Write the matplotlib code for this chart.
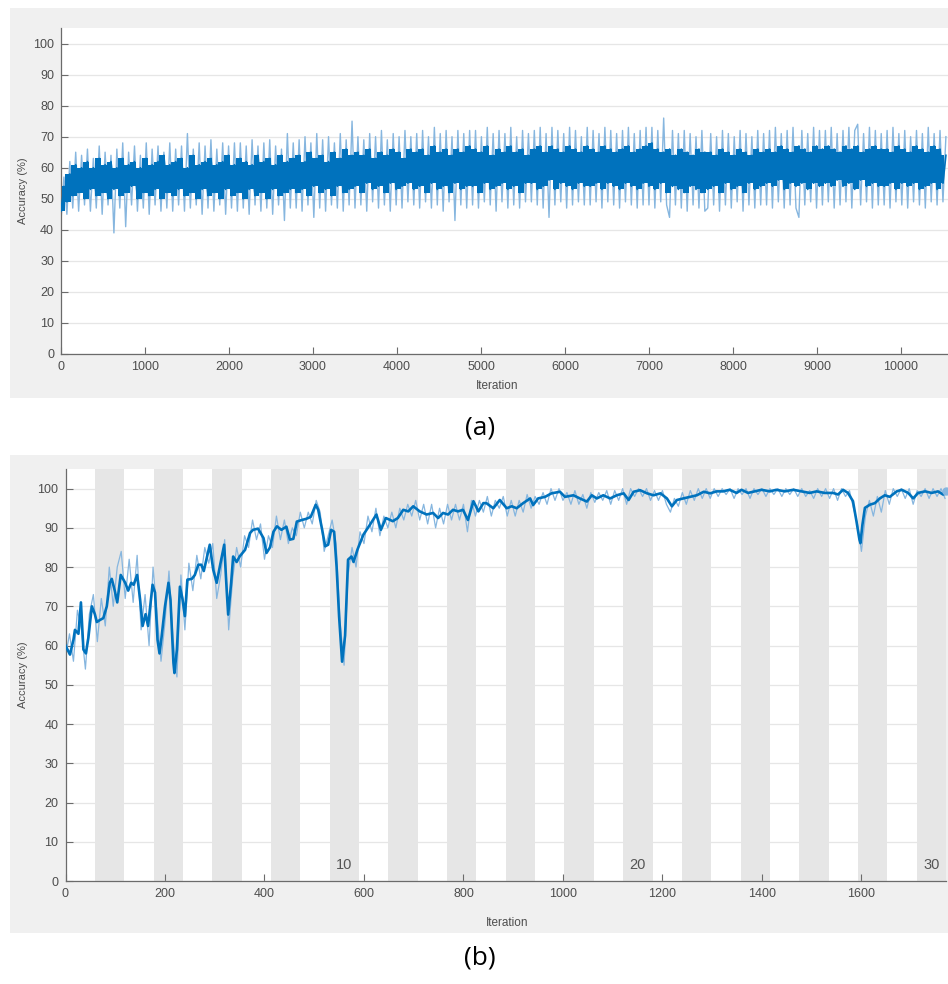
import numpy as np
import matplotlib
matplotlib.use("Agg")
import matplotlib.pyplot as plt
from matplotlib.patches import Rectangle

plt.rcParams['font.family'] = ['Liberation Sans', 'DejaVu Sans']

# ---------------- Panel (a) data ----------------
a_step = 35  # iterations between samples
a_smooth = [
    46, 54, 49, 58, 51, 61, 52, 60, 50, 62, 53, 60, 51, 63, 52, 61, 50, 62, 53, 60,
    51, 63, 52, 61, 54, 62, 50, 60, 52, 63, 51, 61, 53, 62, 50, 64, 52, 61, 51, 62,
    53, 63, 51, 60, 52, 64, 50, 61, 53, 62, 51, 63, 52, 61, 50, 62, 53, 64, 51, 61,
    52, 63, 50, 62, 53, 61, 51, 64, 52, 62, 50, 63, 53, 61, 51, 64, 52, 62, 53, 63,
    52, 64, 53, 62, 51, 65, 54, 63, 52, 64, 53, 62, 51, 65, 54, 63, 52, 66, 53, 64,
    54, 65, 52, 64, 55, 66, 53, 63, 54, 65, 52, 64, 55, 66, 53, 65, 54, 63, 55, 66,
    53, 65, 54, 66, 52, 64, 55, 67, 53, 65, 54, 66, 52, 64, 55, 66, 53, 65, 54, 67,
    54, 66, 52, 65, 55, 67, 53, 64, 54, 66, 55, 65, 53, 67, 54, 65, 52, 66, 55, 64,
    55, 66, 53, 67, 54, 65, 56, 67, 53, 66, 55, 65, 54, 67, 53, 66, 55, 65, 54, 67,
    54, 66, 55, 65, 53, 67, 55, 66, 54, 65, 53, 66, 55, 67, 54, 65, 53, 66, 55, 67,
    54, 68, 53, 66, 55, 65, 52, 66, 54, 64, 53, 66, 52, 65, 54, 64, 53, 66, 52, 65,
    53, 65, 54, 64, 52, 66, 55, 65, 53, 64, 54, 66, 52, 65, 55, 64, 53, 66, 54, 65,
    55, 66, 54, 65, 56, 67, 53, 66, 55, 65, 54, 67, 55, 66, 53, 65, 55, 67, 54, 66,
    55, 67, 54, 66, 56, 65, 54, 67, 55, 66, 53, 67, 56, 65, 54, 66, 55, 67, 54, 66,
    54, 66, 55, 65, 53, 67, 55, 66, 54, 65, 55, 67, 53, 66, 54, 65, 55, 67, 53, 66,
    55, 64,
]
a_raw = [
    43, 57, 45, 62, 47, 65, 46, 64, 48, 66, 46, 63, 47, 67, 45, 65, 48, 64, 39, 66,
    47, 68, 41, 65, 48, 67, 46, 64, 47, 68, 45, 66, 48, 67, 46, 65, 47, 68, 46, 66,
    48, 67, 46, 71, 47, 66, 48, 68, 45, 67, 47, 69, 46, 66, 48, 68, 45, 67, 47, 68,
    46, 68, 47, 67, 45, 69, 48, 67, 46, 68, 47, 69, 45, 67, 48, 66, 43, 71, 47, 68,
    47, 69, 46, 70, 48, 68, 44, 71, 47, 69, 46, 70, 48, 68, 47, 71, 46, 69, 48, 75,
    47, 70, 48, 69, 46, 71, 49, 70, 47, 72, 48, 69, 46, 71, 48, 70, 47, 72, 49, 70,
    48, 71, 47, 72, 49, 70, 47, 73, 48, 71, 46, 72, 49, 70, 43, 72, 48, 71, 47, 72,
    48, 72, 47, 70, 49, 73, 48, 71, 46, 72, 49, 71, 47, 73, 48, 70, 47, 72, 49, 71,
    49, 72, 48, 73, 47, 71, 44, 73, 48, 72, 49, 71, 47, 73, 48, 72, 49, 70, 48, 73,
    48, 72, 49, 71, 47, 73, 49, 72, 48, 71, 47, 72, 49, 73, 48, 71, 47, 72, 48, 73,
    48, 73, 47, 72, 49, 76, 48, 44, 72, 48, 71, 47, 72, 46, 71, 48, 70, 47, 72, 46,
    47, 71, 48, 70, 46, 72, 48, 71, 47, 70, 49, 72, 46, 71, 48, 70, 47, 72, 48, 71,
    48, 72, 47, 73, 49, 71, 47, 72, 48, 73, 47, 44, 72, 48, 71, 49, 73, 47, 72, 48,
    72, 49, 73, 47, 71, 48, 72, 49, 73, 47, 72, 74, 48, 71, 49, 73, 47, 72, 48, 71,
    48, 72, 47, 73, 49, 71, 48, 72, 47, 70, 49, 72, 48, 71, 47, 73, 49, 71, 48, 72,
    49, 70,
]
a_xticks = list(range(0, 10001, 1000))

# ---------------- Panel (b) data ----------------
b_raw_step = 8
b_raw = [
    57, 63, 56, 69, 64, 54, 68, 73, 61, 72, 65, 80, 70, 80, 84, 72, 82, 71, 83, 64,
    73, 60, 80, 68, 56, 66, 79, 62, 52, 78, 64, 81, 74, 83, 77, 85, 81, 86, 72, 78,
    87, 64, 77, 85, 80, 88, 85, 92, 87, 91, 82, 88, 85, 93, 87, 92, 86, 90, 88, 94,
    90, 94, 91, 97, 94, 84, 88, 92, 86, 66, 55, 78, 85, 80, 89, 86, 93, 89, 95, 88,
    93, 90, 94, 90, 95, 92, 96, 93, 97, 92, 96, 91, 96, 90, 95, 91, 96, 92, 96, 92,
    96, 89, 97, 93, 97, 94, 98, 93, 97, 95, 98, 93, 97, 93, 97, 94, 98.5, 95, 98, 96,
    99, 96, 100, 97, 100, 97, 99, 96, 99.5, 96, 98.5, 95, 99, 96.5, 99, 97, 99.5, 96, 99.5, 97,
    100, 96, 100, 98, 100, 98, 100, 97, 99.5, 97, 99.5, 96, 94, 97.5, 95.5, 99, 96, 99.5, 97, 100,
    97.5, 100, 97.5, 100, 98, 100, 98.5, 100, 97.5, 100, 98.5, 100, 97.5, 100, 98.5, 100, 98, 100, 98.5, 100,
    98, 100, 98.5, 100, 98, 100, 98, 99.5, 97.5, 100, 98, 100, 97.5, 100, 97, 100, 98, 99.5, 95, 91,
    84, 93, 97, 93, 98, 94, 99.5, 96, 100, 98, 100, 97.5, 100, 96, 99.5, 98, 100, 97.5, 100, 98,
    100, 97.5,
]
b_smooth_iter = [
    0, 9, 16, 19, 26, 31, 36, 41, 46, 53, 59, 63, 69, 76, 83, 89, 93, 99, 104, 111,
    120, 126, 132, 137, 144, 150, 155, 161, 166, 175, 180, 185, 189, 193, 200, 207, 211, 217, 219, 224,
    230, 235, 240, 245, 254, 260, 267, 273, 278, 290, 297, 304, 310, 319, 324, 327, 333, 337, 344, 350,
    361, 371, 377, 387, 398, 404, 411, 418, 425, 434, 444, 451, 458, 465, 475, 484, 493, 503, 508, 516,
    522, 528, 534, 540, 545, 550, 556, 562, 568, 575, 579, 587, 599, 612, 625, 634, 644, 658, 668, 679,
    689, 699, 712, 726, 739, 749, 759, 769, 779, 789, 799, 809, 820, 830, 840, 846, 860, 873, 887, 897,
    907, 920, 934, 940, 950, 964, 977, 994, 1004, 1021, 1034, 1048, 1058, 1068, 1081, 1095, 1108, 1122, 1132, 1142,
    1155, 1169, 1182, 1196, 1209, 1219, 1229, 1242, 1256, 1269, 1283, 1296, 1309, 1322, 1335, 1349, 1359, 1372, 1386, 1399,
    1416, 1429, 1446, 1463, 1480, 1496, 1510, 1526, 1543, 1553, 1563, 1573, 1583, 1590, 1596, 1598, 1602, 1607, 1617, 1627,
    1637, 1647, 1657, 1671, 1681, 1694, 1704, 1714, 1728, 1741, 1754, 1764, 1770,
]
b_smooth = [
    60, 57.7, 61.5, 64, 63, 71, 59, 58, 62, 70, 68, 66, 66.5, 67, 70, 76, 77, 74, 71, 78,
    76, 74, 76, 75.5, 78, 71.7, 65, 68, 65, 75.5, 73.5, 61.5, 58, 62, 70, 76, 71.7, 55.6, 53, 59,
    75, 72, 67.5, 76.8, 77, 78, 80.6, 80.6, 79, 85.7, 79.3, 76, 80, 85.7, 74.2, 67.9, 76, 82.7, 81.3, 82.7,
    84.4, 88.7, 89.5, 89.8, 87.4, 83.6, 85, 89, 90.4, 89.5, 90.3, 87, 87.2, 91.6, 92, 92.3, 92.8, 95.9, 94.6, 89.5,
    85.3, 85.7, 89.5, 89, 80, 67.4, 55.9, 62.5, 81.9, 82.7, 81.3, 84.5, 88.3, 90.8, 93.4, 89.5, 92.5, 91.7, 92.5, 94.6,
    94.2, 95.5, 94.2, 93.4, 93.8, 92.5, 93.8, 93.4, 94.6, 94.2, 94.6, 92, 96.8, 94.2, 96.3, 96.3, 95, 97.1, 95, 95.5,
    95, 96.3, 97.5, 95.8, 97.5, 97.9, 98.8, 99.2, 97.9, 98.3, 97.5, 96.7, 98.3, 97.5, 98.3, 97.5, 98.3, 98.8, 97.1, 99.2,
    99.6, 98.8, 98.3, 98.8, 97.5, 95.5, 97.1, 97.5, 97.9, 98.3, 99.2, 98.8, 99.3, 99.3, 99.7, 98.9, 99.7, 98.9, 99.3, 99.7,
    99.3, 99.7, 99.3, 99.7, 99.3, 98.9, 99.3, 98.9, 98.9, 98.5, 99.7, 98.9, 96.8, 91.7, 87, 86.1, 90.8, 95.1, 95.9, 96.3,
    97.5, 98.3, 97.9, 99.3, 99.7, 98.9, 97.5, 98.9, 99.3, 98.9, 99.3, 98.5, 98.8,
]
b_final = 99.5
iters_per_epoch = 59
n_epochs = 30
epoch_labels = [10, 20, 30]
b_xticks = list(range(0, 1601, 200))

yticks = list(range(0, 101, 10))

# ---------------- Styling ----------------
W, H = 948, 984
fig = plt.figure(figsize=(W / 100, H / 100), dpi=100)
fig.patch.set_facecolor('white')

panel_gray = '#f0f0f0'
fig.patches.append(Rectangle((10 / W, 1 - 398 / H), (W - 10) / W, 390 / H,
                             transform=fig.transFigure, facecolor=panel_gray,
                             edgecolor='none', zorder=-5))
fig.patches.append(Rectangle((10 / W, 1 - 933 / H), (W - 10) / W, 478 / H,
                             transform=fig.transFigure, facecolor=panel_gray,
                             edgecolor='none', zorder=-5))

RAW_C = '#86b6df'
SM_C = '#0072bd'
TXT_C = '#4d4d4d'
SPINE_C = '#6b6b6b'


def style(ax):
    ax.set_zorder(2)
    ax.set_facecolor('white')
    for s in ['top', 'right']:
        ax.spines[s].set_visible(False)
    for s in ['left', 'bottom']:
        ax.spines[s].set_color(SPINE_C)
        ax.spines[s].set_linewidth(0.9)
    ax.tick_params(direction='in', length=5, width=0.8, color=SPINE_C,
                   labelcolor=TXT_C, labelsize=9, pad=5)
    ax.set_yticks(yticks)
    ax.set_ylim(0, 105)
    ax.yaxis.grid(True, color='#e6e6e6', linewidth=0.9)
    ax.set_axisbelow(True)


# ---- Panel (a)
ax1 = fig.add_axes([61 / W, 1 - 354 / H, (W - 61) / W, (354 - 28) / H])
style(ax1)
xa = np.arange(len(a_raw)) * a_step
ax1.plot(xa, a_raw, color=RAW_C, linewidth=1.0, zorder=2)
sm = np.array(a_smooth, dtype=float)
npair = len(sm) // 2
pairs = sm[:2 * npair].reshape(npair, 2)
xc = (np.arange(npair) * 2 + 0.5) * a_step
ax1.fill_between(xc, pairs.min(axis=1), pairs.max(axis=1), step='mid',
                 color=SM_C, linewidth=0, zorder=3)
xs = np.arange(len(a_smooth)) * a_step
ax1.plot(xs, a_smooth, color=SM_C, linewidth=1.2, zorder=3)
ax1.set_xlim(0, 10560)
ax1.set_xticks(a_xticks)
ax1.set_xlabel('Iteration', fontsize=8.5, color=TXT_C)
ax1.xaxis.set_label_coords((497 - 61) / (W - 61), (354 - 380) / 326)
ax1.set_ylabel('Accuracy (%)', fontsize=8, color=TXT_C)
ax1.yaxis.set_label_coords((28 - 61) / (W - 61), 0.5)

# ---- Panel (b)
ax2 = fig.add_axes([65.5 / W, 1 - 881 / H, (946 - 65.5) / W, (881 - 469) / H])
style(ax2)
for e in range(n_epochs):
    if (e + 1) % 2 == 0:
        ax2.axvspan(e * iters_per_epoch, (e + 1) * iters_per_epoch,
                    color='#e6e6e6', linewidth=0, zorder=0)
xb = np.arange(len(b_raw)) * b_raw_step
ax2.plot(xb, b_raw, color=RAW_C, linewidth=0.9, zorder=2)
ax2.plot(b_smooth_iter, b_smooth, color=SM_C, linewidth=1.9, zorder=3)
ax2.plot([n_epochs * iters_per_epoch], [b_final], 'o', color=RAW_C,
         markersize=5, zorder=4, clip_on=False)
for lab in epoch_labels:
    ax2.text((lab - 0.5) * iters_per_epoch, 2.2, str(lab), ha='center',
             va='bottom', fontsize=10.5, color='#555555', zorder=4)
ax2.set_xlim(0, n_epochs * iters_per_epoch)
ax2.set_xticks(b_xticks)
ax2.set_xlabel('Iteration', fontsize=8.5, color=TXT_C)
ax2.xaxis.set_label_coords((507 - 65.5) / (946 - 65.5), (881 - 917) / 412)
ax2.set_ylabel('Accuracy (%)', fontsize=8, color=TXT_C)
ax2.yaxis.set_label_coords((28 - 65.5) / (946 - 65.5), 0.5)

fig.text(480 / W, 1 - 428 / H, '(a)', ha='center', va='center',
         fontsize=19, color='black', family=['Open Sans', 'DejaVu Sans'])
fig.text(480 / W, 1 - 958 / H, '(b)', ha='center', va='center',
         fontsize=19, color='black', family=['Open Sans', 'DejaVu Sans'])

fig.savefig('out.png', dpi=100, facecolor='white')
